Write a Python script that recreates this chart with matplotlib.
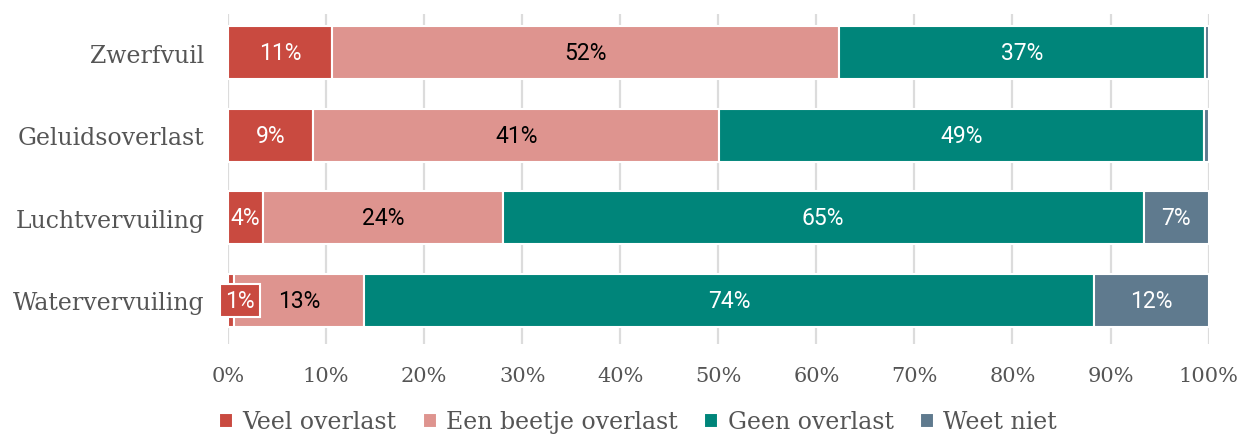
import matplotlib
matplotlib.use("Agg")
import matplotlib.pyplot as plt
import numpy as np

categories = ["Zwerfvuil", "Geluidsoverlast", "Luchtvervuiling", "Watervervuiling"]
series_names = ["Veel overlast", "Een beetje overlast", "Geen overlast", "Weet niet"]
veel = [10.6, 8.7, 3.6, 0.6]
beetje = [51.7, 41.4, 24.4, 13.3]
geen = [37.3, 49.4, 65.4, 74.4]
weet = [0.4, 0.5, 6.6, 11.7]
tick_values = [0, 10, 20, 30, 40, 50, 60, 70, 80, 90, 100]
tick_labels = [f"{v}%" for v in tick_values]

colors = ["#c94a40", "#de948f", "#00857a", "#5f7a8e"]
label_colors = ["white", "black", "white", "white"]

SERIF = ["DejaVu Serif"]
SANS = ["Roboto", "DejaVu Sans"]

fig = plt.figure(figsize=(12.46, 4.39), dpi=100)
ax = fig.add_axes([0.183, 0.214, 0.787, 0.752])

y = np.arange(len(categories))
left = np.zeros(len(categories))
for i, (name, vals) in enumerate(zip(series_names, [veel, beetje, geen, weet])):
    vals = np.array(vals)
    bars = ax.barh(y, vals, left=left, height=0.64, color=colors[i],
                   edgecolor="white", linewidth=1.5, label=name, zorder=3)
    for j, (b, v) in enumerate(zip(bars, vals)):
        r = int(round(v))
        if r < 1:
            continue
        cx = left[j] + v / 2
        if v < 2:
            ax.text(1.2, y[j], f"{r}%", ha="center", va="center",
                    color=label_colors[i], fontsize=16.5, family=SANS, zorder=5,
                    bbox=dict(boxstyle="square,pad=0.22", fc=colors[i], ec="white", lw=1.5))
        else:
            ax.text(cx, y[j], f"{r}%", ha="center", va="center",
                    color=label_colors[i], fontsize=16.5, family=SANS, zorder=5)
    left = left + vals

ax.set_xlim(0, 100)
ax.set_ylim(3.53, -0.47)
ax.set_yticks(y)
ax.set_yticklabels(categories, family=SERIF, fontsize=17, color="#555555")
ax.set_xticks(tick_values)
ax.set_xticklabels(tick_labels, family=SERIF, fontsize=15, color="#555555")
ax.tick_params(axis="both", length=0)
ax.tick_params(axis="x", pad=16)
ax.tick_params(axis="y", pad=17)
for s in ax.spines.values():
    s.set_visible(False)
ax.grid(axis="x", color="#dcdcdc", linewidth=1.6, zorder=0)
ax.set_axisbelow(True)

leg = fig.legend(loc="lower center", bbox_to_anchor=(0.512, -0.038), ncol=4, frameon=False,
                 handlelength=0.6, handleheight=0.6, handletextpad=0.4, columnspacing=1.1,
                 prop={"family": SERIF, "size": 17})
for t in leg.get_texts():
    t.set_color("#555555")

fig.savefig("out.png", dpi=100)
